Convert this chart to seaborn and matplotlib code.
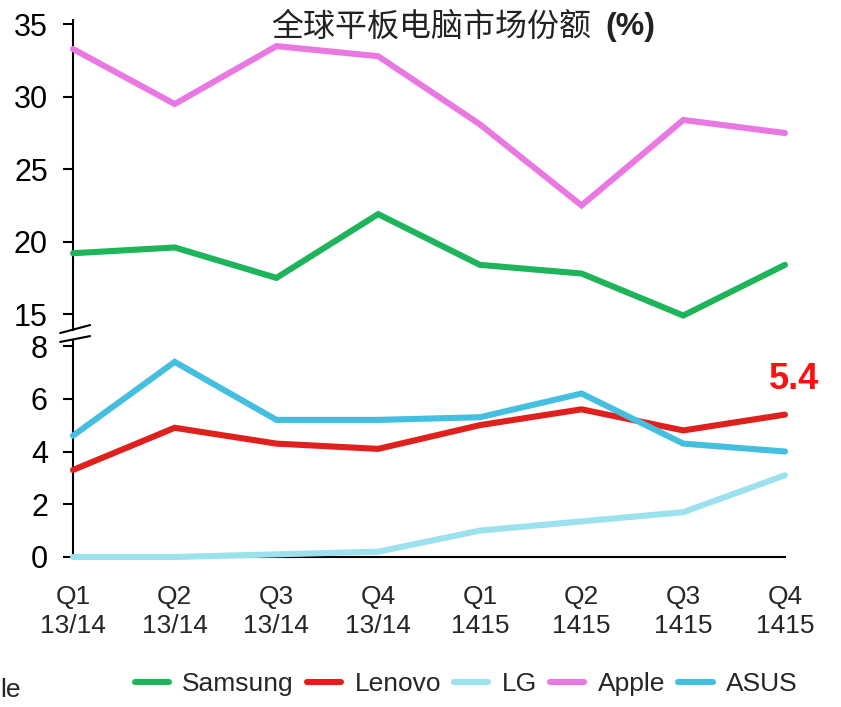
import numpy as np
import pandas as pd
import seaborn as sns
import matplotlib.pyplot as plt
from matplotlib.lines import Line2D

# quarters on the x axis
quarters = ['Q1\n13/14', 'Q2\n13/14', 'Q3\n13/14', 'Q4\n13/14',
            'Q1\n1415', 'Q2\n1415', 'Q3\n1415', 'Q4\n1415']

# market share (%)
apple = [33.3, 29.5, 33.5, 32.8, 28.1, 22.5, 28.4, 27.5]
samsung = [19.2, 19.6, 17.5, 21.9, 18.4, 17.8, 14.9, 18.4]
lenovo = [3.3, 4.9, 4.3, 4.1, 5.0, 5.6, 4.8, 5.4]
asus = [4.6, 7.4, 5.2, 5.2, 5.3, 6.2, 4.3, 4.0]
lg = [0.0, 0.0, 0.1, 0.2, 1.0, 1.35, 1.7, 3.1]

colors = {'Samsung': '#1db45a', 'Lenovo': '#e0201c', 'LG': '#9be2ee',
          'Apple': '#ea78e2', 'ASUS': '#45bfe0'}
legend_order = ['Samsung', 'Lenovo', 'LG', 'Apple', 'ASUS']

sns.set_style('white')
plt.rcParams['font.family'] = ['Liberation Sans', 'DejaVu Sans']

# long format for seaborn
def long(names, series):
    rows = []
    for name, vals in zip(names, series):
        for i, v in enumerate(vals):
            rows.append({'x': i, 'share': v, 'brand': name})
    return pd.DataFrame(rows)

top_df = long(['Apple', 'Samsung'], [apple, samsung])
bot_df = long(['LG', 'Lenovo', 'ASUS'], [lg, lenovo, asus])

fig = plt.figure(figsize=(8.41, 7.07), dpi=100)
ax_top = fig.add_axes([0.0868, 0.5332, 0.8466, 0.4385])
ax_bot = fig.add_axes([0.0868, 0.2122, 0.8466, 0.3069])

lw = 4.4
for ax, df in [(ax_top, top_df), (ax_bot, bot_df)]:
    sns.lineplot(data=df, x='x', y='share', hue='brand', palette=colors,
                 ax=ax, linewidth=lw, legend=False,
                 solid_capstyle='round', solid_joinstyle='miter')
    for line in ax.get_lines():
        line.set_clip_on(False)
        line.set_zorder(5)
    ax.set_xlim(0, 7)
    ax.set_xlabel('')
    ax.set_ylabel('')
    ax.patch.set_alpha(0)
    for s in ['top', 'right']:
        ax.spines[s].set_visible(False)
    ax.spines['left'].set_linewidth(1.5)
    ax.spines['left'].set_color('black')
    ax.tick_params(axis='y', direction='out', length=7, width=1.5,
                   labelsize=22, pad=11, left=True, colors='black')

ax_top.set_ylim(13.9, 35.3)
ax_top.set_yticks([15, 20, 25, 30, 35])
ax_top.spines['bottom'].set_visible(False)
ax_top.set_xticks([])

ax_bot.set_ylim(0, 8.23)
ax_bot.set_yticks([0, 2, 4, 6, 8])
ax_bot.spines['bottom'].set_linewidth(1.5)
ax_bot.spines['bottom'].set_color('black')
ax_bot.set_xticks(range(len(quarters)))
ax_bot.set_xticklabels(quarters, fontsize=19, linespacing=1.3)
ax_bot.tick_params(axis='x', length=0, pad=20)

# broken axis marks
kw = dict(color='black', linewidth=1.5, clip_on=False)
ax_top.plot([-0.018, 0.024], [-0.0097, 0.016], transform=ax_top.transAxes, **kw)
ax_bot.plot([-0.018, 0.024], [0.991, 1.018], transform=ax_bot.transAxes, **kw)

# highlight the latest Lenovo value
ax_bot.annotate(f'{lenovo[-1]:.1f}', xy=(7, lenovo[-1]), xytext=(9, 35),
                textcoords='offset pixels', ha='center', va='center',
                fontsize=26, fontweight='bold', color='#ff1010')

# title
fig.text(591 / 841, 1 - 27 / 707, '全球平板电脑市场份额', ha='right', va='center',
         fontsize=23, color='#222222',
         family=['Noto Sans CJK SC', 'DejaVu Sans'])
fig.text(605 / 841, 1 - 27 / 707, '(%)', ha='left', va='center',
         fontsize=23, fontweight='bold', color='#222222',
         family=['Liberation Sans Narrow', 'Liberation Sans'])

# legend
handles = [Line2D([0], [0], color=colors[b], linewidth=lw) for b in legend_order]
fig.legend(handles, legend_order, loc='center', ncol=5,
           bbox_to_anchor=(466 / 841, 1 - 684 / 707), frameon=False,
           fontsize=19, handlelength=1.3, handletextpad=0.5,
           columnspacing=0.5)

fig.text(0, 1 - 690 / 707, 'le', ha='left', va='center', fontsize=19)

fig.savefig('out.png', dpi=100)
